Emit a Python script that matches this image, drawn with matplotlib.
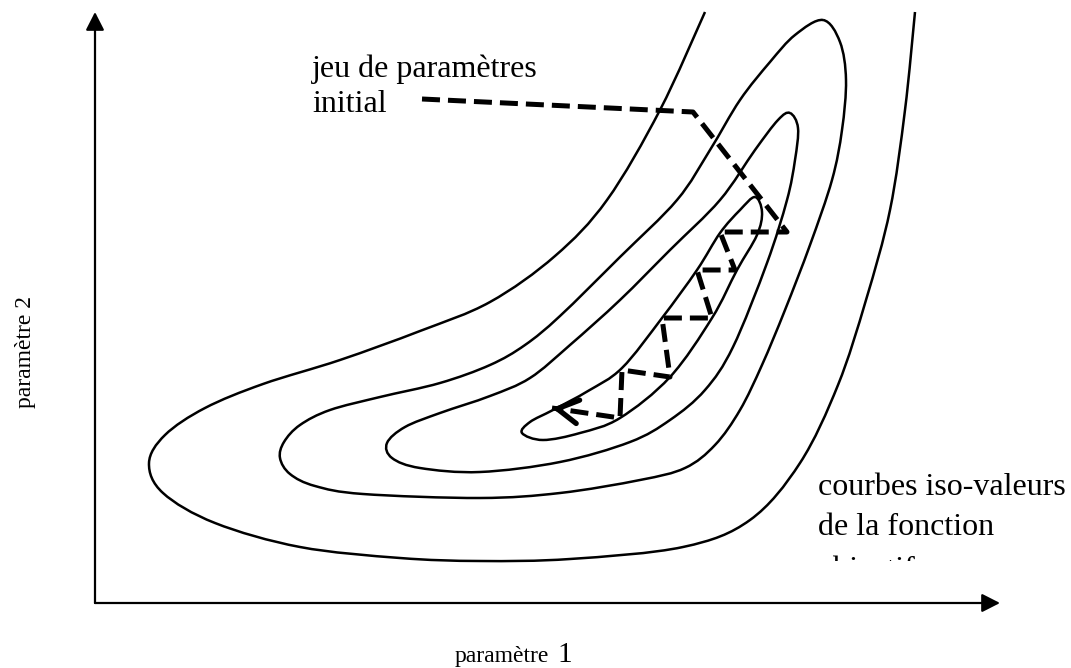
import matplotlib.pyplot as plt
from matplotlib.path import Path
from matplotlib.patches import PathPatch
from matplotlib.transforms import Bbox, TransformedBbox

plt.rcParams['font.family'] = ['Liberation Serif', 'DejaVu Serif']

# courbes iso-valeurs (en pixels)
iso1_x = [705, 660, 607, 555, 490, 420, 340, 263, 205, 165, 149, 163, 215, 300, 400, 480, 570, 683, 750, 800, 838, 866, 890, 905, 915]
iso1_y = [12, 110, 200, 256, 302, 331, 360, 384, 408, 435, 463, 493, 523, 547, 558, 561, 559, 547, 520, 463, 385, 300, 210, 110, 12]
iso2_x = [823, 795, 770, 740, 710, 677, 620, 560, 525, 490, 440, 380, 330, 300, 284, 280, 290, 315, 363, 480, 560, 640, 685, 715, 740, 762, 785, 810, 832, 842, 846, 840]
iso2_y = [20, 35, 62, 100, 150, 200, 257, 316, 345, 365, 383, 397, 410, 425, 442, 458, 474, 486, 494, 498, 493, 480, 468, 445, 410, 365, 310, 245, 180, 130, 80, 42]
iso3_x = [790, 798, 795, 787, 767, 733, 705, 670, 630, 560, 480, 420, 392, 387, 405, 440, 490, 530, 570, 620, 670, 720, 755, 778]
iso3_y = [113, 128, 160, 200, 263, 347, 390, 420, 442, 462, 472, 468, 458, 443, 427, 413, 396, 378, 345, 300, 250, 200, 150, 120]
iso4_x = [755, 762, 757, 737, 712, 670, 620, 580, 543, 522, 530, 553, 588, 622, 662, 697, 720, 740]
iso4_y = [197, 212, 235, 270, 318, 377, 418, 433, 440, 433, 422, 410, 391, 368, 318, 270, 233, 210]

# chemin de la recherche (pointillés)
path_x = [422, 693, 787, 720, 735, 697, 712, 662, 670, 622, 620, 552]
path_y = [99, 112, 232, 232, 270, 270, 318, 318, 377, 370, 418, 408]


def smooth_path(xs, ys, closed):
    pts = list(zip(xs, ys))
    n = len(pts)
    def p(i):
        if closed:
            return pts[i % n]
        return pts[min(max(i, 0), n - 1)]
    verts = [pts[0]]
    codes = [Path.MOVETO]
    last = n if closed else n - 1
    for i in range(last):
        p0, p1, p2, p3 = p(i - 1), p(i), p(i + 1), p(i + 2)
        c1 = (p1[0] + (p2[0] - p0[0]) / 6, p1[1] + (p2[1] - p0[1]) / 6)
        c2 = (p2[0] - (p3[0] - p1[0]) / 6, p2[1] - (p3[1] - p1[1]) / 6)
        verts += [c1, c2, p2]
        codes += [Path.CURVE4] * 3
    return Path(verts, codes)


fig = plt.figure(figsize=(10.71, 6.68), dpi=100)
ax = fig.add_axes([0, 0, 1, 1])
ax.set_xlim(0, 1071)
ax.set_ylim(668, 0)
ax.axis('off')

for xs, ys, closed in [(iso1_x, iso1_y, False), (iso2_x, iso2_y, True),
                       (iso3_x, iso3_y, True), (iso4_x, iso4_y, True)]:
    ax.add_patch(PathPatch(smooth_path(xs, ys, closed), fill=False, lw=1.8, ec='black'))

# axes avec flèches
ax.annotate('', xy=(95, 12), xytext=(95, 603),
            arrowprops=dict(arrowstyle='-|>,head_length=0.55,head_width=0.28', lw=1.6,
                            color='black', mutation_scale=20, shrinkA=0, shrinkB=0))
ax.annotate('', xy=(1000, 603), xytext=(95, 603),
            arrowprops=dict(arrowstyle='-|>,head_length=0.55,head_width=0.28', lw=1.6,
                            color='black', mutation_scale=20, shrinkA=0, shrinkB=0))

# chemin pointillé
ax.plot(path_x, path_y, color='black', lw=3.6, ls=(0, (3.6, 1.6)), solid_joinstyle='miter')
ax.annotate('', xy=(path_x[-1], path_y[-1]),
            xytext=(path_x[-1] + 0.9 * (path_x[-2] - path_x[-1]) / 7, path_y[-1] + 0.9 * (path_y[-2] - path_y[-1]) / 7),
            arrowprops=dict(arrowstyle='->,head_length=1.5,head_width=0.85', lw=3.8,
                            color='black', mutation_scale=10, shrinkA=0, shrinkB=0))

# textes
ax.text(312, 77, 'jeu de paramètres', fontsize=23, va='baseline')
ax.text(312, 112, 'initial', fontsize=23, va='baseline')
ax.text(818, 495, 'courbes iso-valeurs', fontsize=23, va='baseline')
ax.text(818, 535, 'de la fonction', fontsize=23, va='baseline')
t = ax.text(818, 578, 'objectif', fontsize=23, va='baseline')
t.set_clip_box(TransformedBbox(Bbox.from_extents(700, 0, 1071, 561), ax.transData))
t.set_clip_on(True)

ax.text(455, 662, 'paramètre', fontsize=17, va='baseline')
ax.text(557, 662, '1', fontsize=21, va='baseline')
ax.text(25, 352, 'paramètre 2', fontsize=17, rotation=90, ha='center', va='center')

fig.savefig('out.png', dpi=100)
